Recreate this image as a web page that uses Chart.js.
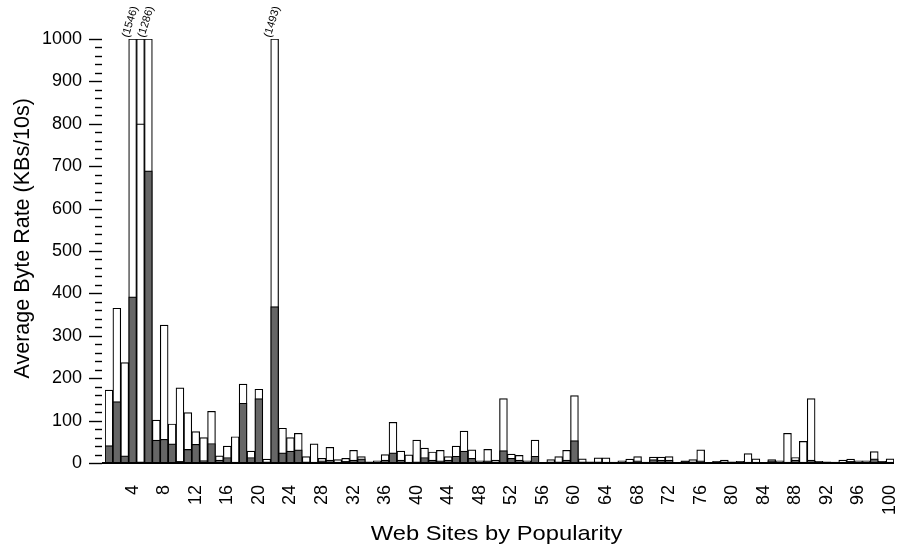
<!DOCTYPE html>
<html>
<head>
<meta charset="utf-8">
<script src="https://cdn.jsdelivr.net/npm/chart.js@4.4.0/dist/chart.umd.min.js"></script>
<style>
html, body { margin: 0; padding: 0; background: #ffffff; }
canvas { display: block; }
</style>
</head>
<body>
<canvas id="chart" width="900" height="553"></canvas>
<script>
// ---- data ----
const siteRanks = ['1','2','3','4','5','6','7','8','9','10','11','12','13','14','15','16','17','18','19','20',
  '21','22','23','24','25','26','27','28','29','30','31','32','33','34','35','36','37','38','39','40',
  '41','42','43','44','45','46','47','48','49','50','51','52','53','54','55','56','57','58','59','60',
  '61','62','63','64','65','66','67','68','69','70','71','72','73','74','75','76','77','78','79','80',
  '81','82','83','84','85','86','87','88','89','90','91','92','93','94','95','96','97','98','99','100'];

const shownTickLabels = ['4','8','12','16','20','24','28','32','36','40','44','48','52','56','60',
  '64','68','72','76','80','84','88','92','96','100'];

// Total average byte rate per site (white bars); values above the axis max are labelled
const totalRate = [172,365,237,1546,1000,1286,101,325,92,177,119,74,60,122,17,40,62,186,28,174,
  9,1493,82,60,70,15,45,11,37,8,11,30,15,3,5,20,96,28,19,54,
  35,26,30,15,40,75,31,5,32,7,152,21,18,5,54,1,8,15,30,159,
  10,3,12,12,2,5,9,15,2,14,14,15,1,5,8,31,1,4,7,3,
  4,22,10,1,8,5,70,13,51,152,4,3,2,7,9,5,5,27,4,10];

// Intermediate level shown inside one bar
const innerRate = [null,null,null,null,800,null,null,null,null,null,null,null,null,null,null,null,null,null,null,null,
  null,null,null,null,null,null,null,null,null,null,null,null,null,null,null,null,null,null,null,null,
  null,null,null,null,null,null,null,null,null,null,null,null,null,null,null,null,null,null,null,null,
  null,null,null,null,null,null,null,null,null,null,null,null,null,null,null,null,null,null,null,null,
  null,null,null,null,null,null,null,null,null,null,null,null,null,null,null,null,null,null,null,null];

// Dark (lower) portion per site
const darkRate = [41,145,17,392,3,689,54,56,45,4,32,44,6,46,7,13,2,141,13,152,
  3,369,24,28,31,3,2,5,7,2,4,7,10,1,2,7,24,7,2,3,
  13,7,5,7,16,28,11,2,5,3,29,11,7,2,16,1,3,3,7,53,
  3,1,3,2,1,2,2,5,1,8,7,7,1,4,3,5,1,2,3,1,
  2,2,2,1,5,2,2,7,2,7,2,1,1,2,4,2,2,10,3,2];

const Y_MAX = 1000;
const Y_MAJOR = 100;
const Y_MINOR = 20;

const X_TITLE = 'Web Sites by Popularity';
const Y_TITLE = 'Average Byte Rate (KBs/10s)';

// ---- chart ----
const FONT = "'Liberation Sans', Arial, Helvetica, sans-serif";
const totalShown = totalRate.map(v => Math.min(v, Y_MAX));

const axisMarks = {
  id: 'axisMarks',
  afterDraw(chart) {
    const ctx = chart.ctx;
    const area = chart.chartArea;
    const y = chart.scales.y;
    const x = chart.scales.x;
    ctx.save();
    ctx.strokeStyle = '#000';
    ctx.lineWidth = 1.4;
    // y ticks (major + minor)
    for (let v = 0; v <= Y_MAX; v += Y_MINOR) {
      const py = Math.round(y.getPixelForValue(v)) + 0.5;
      const major = v % Y_MAJOR === 0;
      ctx.beginPath();
      ctx.moveTo(area.left - (major ? 16 : 10), py);
      ctx.lineTo(area.left - 3, py);
      ctx.stroke();
    }
    // baseline
    const by = y.getPixelForValue(0);
    ctx.lineWidth = 2;
    ctx.beginPath();
    ctx.moveTo(area.left - 3, by);
    ctx.lineTo(area.right, by);
    ctx.stroke();
    // labels for bars above the axis maximum
    ctx.fillStyle = '#000';
    ctx.font = '11px ' + FONT;
    ctx.textAlign = 'left';
    ctx.textBaseline = 'middle';
    const topY = y.getPixelForValue(Y_MAX);
    totalRate.forEach((v, i) => {
      if (v > Y_MAX) {
        const px = x.getPixelForValue(i);
        ctx.save();
        ctx.translate(px - 7, topY - 2);
        ctx.rotate(-73 * Math.PI / 180);
        ctx.fillText('(' + v + ')', 0, 0);
        ctx.restore();
      }
    });
    // axis titles
    ctx.textAlign = 'center';
    ctx.textBaseline = 'alphabetic';
    ctx.save();
    ctx.font = '21px ' + FONT;
    ctx.translate((area.left + area.right) / 2 - 3, 540);
    ctx.scale(1.13, 1);
    ctx.fillText(X_TITLE, 0, 0);
    ctx.restore();
    ctx.save();
    ctx.font = '21.5px ' + FONT;
    ctx.translate(29, y.getPixelForValue(530));
    ctx.rotate(-Math.PI / 2);
    ctx.fillText(Y_TITLE, 0, 0);
    ctx.restore();
    ctx.restore();
  }
};

const barStyle = {
  borderColor: '#000000',
  borderWidth: 1.2,
  grouped: false,
  barPercentage: 1,
  categoryPercentage: 1
};

new Chart(document.getElementById('chart').getContext('2d'), {
  type: 'bar',
  data: {
    labels: siteRanks,
    datasets: [
      Object.assign({ label: 'Dark portion', data: darkRate, backgroundColor: '#666666' }, barStyle),
      Object.assign({ label: 'Inner level', data: innerRate, backgroundColor: '#ffffff' }, barStyle),
      Object.assign({ label: 'Total', data: totalShown, backgroundColor: '#ffffff' }, barStyle)
    ]
  },
  options: {
    responsive: false,
    animation: false,
    devicePixelRatio: 1,
    layout: { padding: { left: 0, top: 39, right: 6, bottom: 0 } },
    plugins: { legend: { display: false }, tooltip: { enabled: false } },
    scales: {
      x: {
        grid: { display: false, drawTicks: false },
        border: { display: false },
        ticks: {
          autoSkip: false, maxRotation: 90, minRotation: 90, padding: 22,
          color: '#000', font: { family: FONT, size: 18 },
          callback: (val, i) => shownTickLabels.includes(siteRanks[i]) ? siteRanks[i] : ''
        },
        title: { display: false },
        afterFit(s) { s.height = 90; s.paddingLeft = 0; s.paddingRight = 0; }
      },
      y: {
        min: 0, max: Y_MAX,
        grid: { display: false, drawTicks: false },
        border: { display: false },
        ticks: { stepSize: Y_MAJOR, padding: 23, color: '#000', font: { family: FONT, size: 18 },
                 callback: (val) => String(val) },
        title: { display: false },
        afterFit(s) { s.width = 105; s.paddingTop = 0; s.paddingBottom = 0; }
      }
    }
  },
  plugins: [axisMarks]
});
</script>
</body>
</html>
